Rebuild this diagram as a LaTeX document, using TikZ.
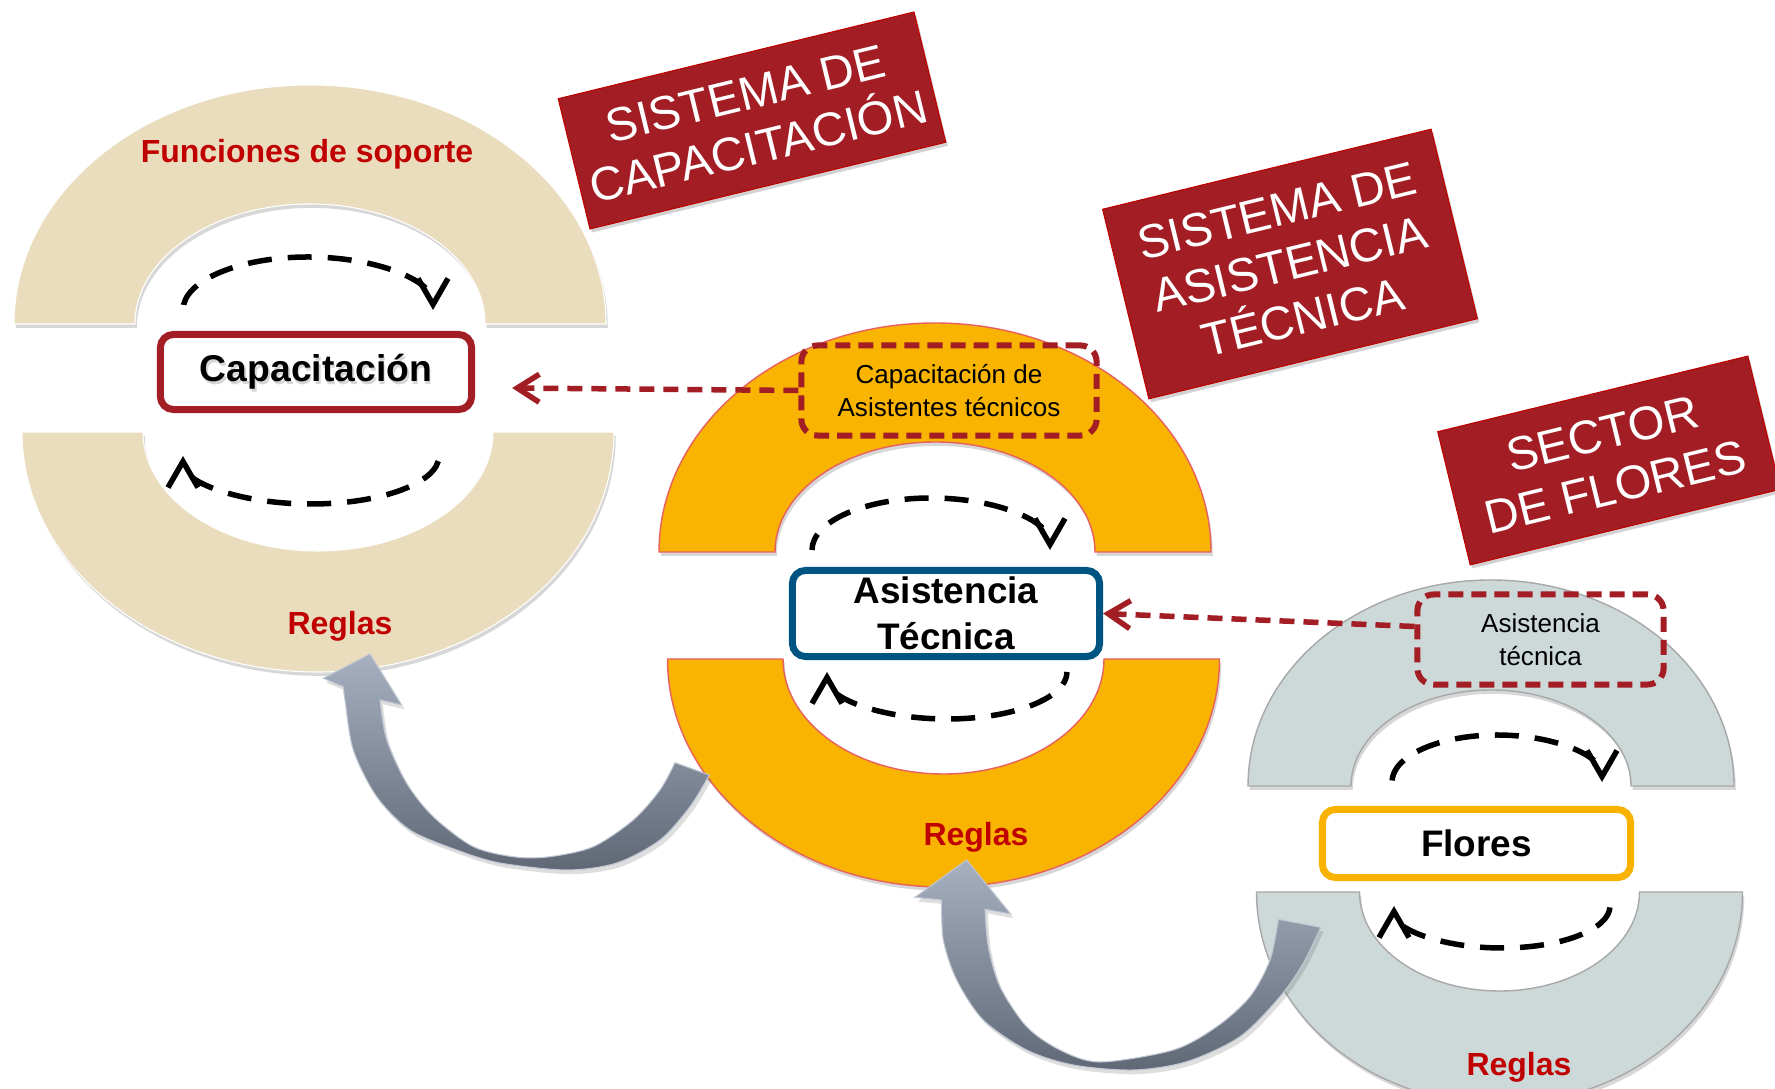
\documentclass[tikz,border=0pt]{standalone}
\usepackage{fontspec}
\setmainfont{Liberation Sans}
\usetikzlibrary{arrows.meta,shadows,calc}
\definecolor{beige}{RGB}{234,221,190}
\definecolor{ringorange}{RGB}{248,180,0}
\definecolor{orangeedge}{RGB}{232,96,96}
\definecolor{ringgrey}{RGB}{205,216,216}
\definecolor{greyedge}{RGB}{168,168,168}
\definecolor{darkred}{RGB}{163,29,36}
\definecolor{labelred}{RGB}{192,0,0}
\definecolor{boxblue}{RGB}{0,84,130}
\definecolor{floresorange}{RGB}{249,178,0}
\definecolor{arrowlight}{RGB}{166,176,192}
\definecolor{arrowdark}{RGB}{96,104,118}
\begin{document}
\begin{tikzpicture}[x=0.01cm,y=-0.01cm,
  ringshadow/.style={drop shadow={shadow xshift=0.5pt,shadow yshift=-1.1pt,opacity=0.22,fill=black!70}},
  beigering/.style={fill=beige,draw=white,line width=0.3pt,ringshadow},
  orangering/.style={fill=ringorange,draw=orangeedge,line width=0.4pt,ringshadow},
  greyring/.style={fill=ringgrey,draw=greyedge,line width=0.4pt,ringshadow},
  loopdash/.style={draw=black,line width=0.055cm,dash pattern=on 0.24cm off 0.16cm,dash phase=0.24cm,
    arrows={{Straight Barb[length=0.26cm,width=0.3cm]}-}},
  reddash/.style={draw=darkred,line width=0.055cm,dash pattern=on 0.15cm off 0.09cm,
    -{Straight Barb[length=0.22cm,width=0.28cm]}},
  centerbox/.style={fill=white,line width=0.07cm,rounded corners=0.13cm,inner sep=0pt,
    align=center,font=\bfseries\fontsize{10.5}{13}\selectfont,
    drop shadow={shadow xshift=0.6pt,shadow yshift=-0.9pt,opacity=0.25,fill=black!70}},
  dashbox/.style={draw=darkred,line width=0.06cm,dash pattern=on 0.15cm off 0.08cm,
    rounded corners=0.16cm,inner sep=0pt,align=center,font=\fontsize{7.4}{9.25}\selectfont},
  ringlabel/.style={text=labelred,font=\bfseries\fontsize{9.1}{11}\selectfont,inner sep=0pt},
  sysbox/.style={fill=darkred,draw=labelred,line width=0.3pt,rotate=13.7,text=white,
    align=center,inner sep=0pt,font=\fontsize{13.4}{15.6}\selectfont,
    drop shadow={shadow xshift=0.6pt,shadow yshift=-1pt,opacity=0.25,fill=black!70}},
  grarrow/.style={top color=arrowlight,bottom color=arrowdark,draw=arrowlight!70!white,
    line width=0.3pt,drop shadow={shadow xshift=0.8pt,shadow yshift=-1.2pt,opacity=0.18,fill=black!70}}
]
\useasboundingbox (0,0) rectangle (1775,1089);
\clip (0,0) rectangle (1775,1089);
\fill[white] (0,0) rectangle (1775,1089);

% ---- rings ----
\path[beigering] (14,324) arc[start angle=180,end angle=360,x radius=296,y radius=239]
  -- (485,324) arc[start angle=360,end angle=180,x radius=175,y radius=120] -- cycle;
\path[beigering] (22,432) arc[start angle=180,end angle=0,x radius=296,y radius=240]
  -- (493,432) arc[start angle=0,end angle=180,x radius=175,y radius=119] -- cycle;

\path[orangering] (659,552) arc[start angle=180,end angle=360,x radius=276,y radius=229]
  -- (1095,552) arc[start angle=360,end angle=180,x radius=160,y radius=110] -- cycle;
\path[orangering] (667.5,659) arc[start angle=180,end angle=0,x radius=276,y radius=228]
  -- (1104,659) arc[start angle=0,end angle=180,x radius=160.5,y radius=115] -- cycle;

\path[greyring] (1248,786) arc[start angle=180,end angle=360,x radius=243,y radius=206]
  -- (1631,786) arc[start angle=360,end angle=180,x radius=140,y radius=96] -- cycle;
\path[greyring] (1256.5,892) arc[start angle=180,end angle=0,x radius=243,y radius=212]
  -- (1639.5,892) arc[start angle=0,end angle=180,x radius=140,y radius=99] -- cycle;

% ---- grey curved arrows ----
\path[grarrow] (370,654) -- (401.7,705) -- (380,700)
  -- plot[smooth] coordinates {(380,700) (386.7,740) (406.7,783.3) (433.3,816.7) (473.3,846.7) (515,857) (550,856.7) (593.3,846.7) (633.3,820) (660,790) (675,762.7)}
  -- (709.3,775)
  -- plot[smooth] coordinates {(709.3,775) (690,806.7) (660,840) (616.7,863) (566.7,870) (500,863) (456.7,850) (410,830) (376.7,796.7) (353.3,750) (345,700) (343.3,686.7)}
  -- (323.3,678.3) -- cycle;
\path[grarrow] (966.7,860) -- (1010.7,914) -- (985,909.3)
  -- plot[smooth] coordinates {(985,909.3) (988.3,946.7) (1000,986.7) (1026.7,1026.7) (1060,1050) (1100,1062) (1173.3,1050) (1216.7,1026.7) (1250,996.7) (1270,960) (1278.3,919.3)}
  -- (1320.7,927.3)
  -- plot[smooth] coordinates {(1320.7,927.3) (1303.3,963.3) (1280,996.7) (1240,1036.7) (1186.7,1061.7) (1133.3,1070) (1073.3,1065) (1026.7,1050) (983.3,1020) (956.7,980) (943.3,940) (941.7,900)}
  -- (915,897.3) -- cycle;

% ---- dashed loops (drawn from the arrow end) ----
\draw[loopdash] (433,310) arc[start angle=360,end angle=180,x radius=125,y radius=53];
\draw[loopdash] (183,456) arc[start angle=180,end angle=0,x radius=128,y radius=48];
\draw[loopdash] (1050,550) arc[start angle=360,end angle=180,x radius=119,y radius=52];
\draw[loopdash] (827,672) arc[start angle=180,end angle=0,x radius=120,y radius=47];
\draw[loopdash] (1602,782) arc[start angle=360,end angle=180,x radius=105,y radius=47];
\draw[loopdash] (1394,906) arc[start angle=180,end angle=0,x radius=108,y radius=42];

% ---- ring labels ----
\node[ringlabel] (fsop) at (307,154) {Funciones de soporte};
\node[ringlabel] (reg1) at (340,626) {Reglas};
\node[ringlabel] (reg2) at (976,837) {Reglas};
\node[ringlabel] (reg3) at (1519,1067) {Reglas};

% ---- center boxes ----
\node[centerbox,draw=darkred,minimum width=3.11cm,minimum height=0.75cm] (cap) at (316,372) {};
\node[text=black!35,opacity=0.45,font=\bfseries\fontsize{10.6}{13}\selectfont,inner sep=0pt] (capshadow)
  at ([xshift=0.5pt,yshift=-0.7pt]cap.center) {Capacitación};
\node[font=\bfseries\fontsize{10.6}{13}\selectfont,inner sep=0pt] (captext) at (cap.center) {Capacitación};
\node[centerbox,draw=boxblue,minimum width=3.07cm,minimum height=0.86cm] (at) at (946,613.5) {Asistencia\\Técnica};
\node[centerbox,draw=floresorange,minimum width=3.08cm,minimum height=0.68cm] (flores) at (1476.5,843.5) {Flores};

% ---- dashed boxes ----
\node[dashbox,minimum width=2.95cm,minimum height=0.9cm] (capdash) at (949,390.5) {Capacitación de\\Asistentes técnicos};
\node[dashbox,minimum width=2.46cm,minimum height=0.9cm] (atdash) at (1540.5,639.5) {Asistencia\\técnica};

% ---- red dashed connectors ----
\draw[reddash] (capdash.west) -- ([xshift=0.37cm,yshift=-0.16cm]cap.east);
\draw[reddash] ([yshift=0.13cm]atdash.west) -- (at.east);

% ---- system labels ----
\node[sysbox,minimum width=3.66cm,minimum height=1.34cm] (sys1) at (752,120.5) {SISTEMA DE\\CAPACITACIÓN};
\node[sysbox,minimum width=3.38cm,minimum height=1.95cm] (sys2) at (1290,264) {SISTEMA DE\\ASISTENCIA\\TÉCNICA};
\node[sysbox,minimum width=3.19cm,minimum height=1.37cm] (sys3) at (1609,460.5) {SECTOR\\DE FLORES};
\end{tikzpicture}
\end{document}
